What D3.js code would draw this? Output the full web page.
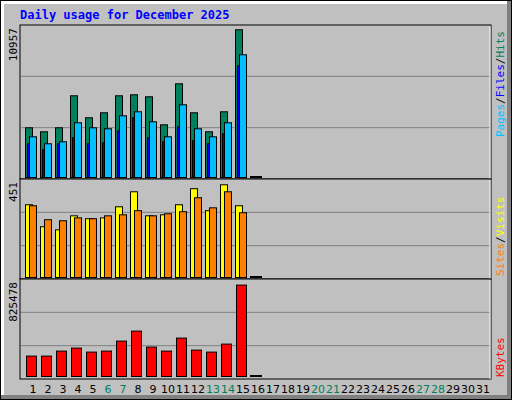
<!DOCTYPE html>
<html><head><meta charset="utf-8">
<script src="https://cdn.jsdelivr.net/npm/d3@7"></script>
<style>body{margin:0;background:#fff}svg{display:block}</style>
</head><body>
<svg id="c" width="512" height="400"></svg>
<script>
const days = d3.range(1, 32);
const weekendDays = [6, 7, 13, 14, 20, 21, 27, 28];
const hits   = [3687,3390,3687,6061,4429,4800,6061,6135,5987,3909,6951,4800,3390,4874,10957];
const files  = [2500,2055,2500,2945,2500,2574,3464,4429,2945,2648,3761,2722,2500,3242,8286];
const pages  = [3019,2500,2648,4058,3687,3613,4577,4874,4132,3019,5393,3613,3019,4058,9103];
const visits = [354,247,232,300,286,290,344,417,300,305,354,432,325,451,349];
const sites  = [349,281,276,290,286,300,305,325,300,310,320,388,339,417,315];
const kbytes = [184243,184243,229400,256494,220368,229400,319713,410028,265525,229400,346806,238431,220368,292620,825478];
const maxHits = 10957, maxVisits = 451, maxKB = 825478;

const svg = d3.select("#c");
const font = "'DejaVu Sans Mono', monospace";
// frame
svg.append("rect").attr("x",0).attr("y",0).attr("width",512).attr("height",400).attr("fill","#000");
svg.append("rect").attr("x",1).attr("y",1).attr("width",510).attr("height",398).attr("fill","#808080");
svg.append("rect").attr("x",1).attr("y",1).attr("width",506).attr("height",394).attr("fill","#fff");
svg.append("rect").attr("x",4).attr("y",4).attr("width",503).attr("height",391).attr("fill","#c0c0c0");

svg.append("text").attr("x",20).attr("y",19).attr("fill","#0000ff").attr("font-family",font)
  .attr("font-weight","bold").attr("font-size",12).text("Daily usage for December 2025");

const x = d3.scaleLinear().domain([1, 32]).range([25, 490]);
const X0 = 20, X1 = 491;

function panel(top, bottom, max, label) {
  svg.append("rect").attr("x",X0).attr("y",top).attr("width",X1-X0).attr("height",bottom-top)
    .attr("fill","#c0c0c0").attr("stroke","#000");
  const h = bottom - top;
  [1,2].forEach(i => svg.append("line").attr("x1",X0+1).attr("x2",X1-1)
    .attr("y1",top + h*i/3).attr("y2",top + h*i/3).attr("stroke","#808080"));
  svg.append("line").attr("x1",X1-1).attr("x2",X1-1).attr("y1",top+1).attr("y2",bottom).attr("stroke","#fff");
  svg.append("text").attr("transform",`translate(17,${top+3}) rotate(-90)`).attr("text-anchor","end")
    .attr("font-family",font).attr("font-size",11).attr("fill","#000").text(label);
}
panel(25, 179, maxHits, "10957");
panel(179, 279, maxVisits, "451");
panel(279, 379, maxKB, "825478");

const yH = d3.scaleLinear().domain([0, maxHits]).range([177, 29.3]);
const yV = d3.scaleLinear().domain([0, maxVisits]).range([277, 184.3]);
const yK = d3.scaleLinear().domain([0, maxKB]).range([376, 284.6]);

function bars(data, y, dx, w, color) {
  svg.append("g").selectAll("rect").data(data).join("rect")
    .attr("x",(d,i)=>x(i+1)+dx+0.5).attr("y",d=>y(d)+0.5).attr("width",w).attr("height",d=>y(0)-y(d))
    .attr("fill",color).attr("stroke","#000");
}
bars(hits, yH, 0, 7, "#00805c");
bars(files, yH, 2, 5, "#0000ff");
bars(pages, yH, 4, 7, "#00c0ff");
bars(visits, yV, 0, 7, "#ffff00");
bars(sites, yV, 4, 7, "#ff8000");
bars(kbytes, yK, 1, 10, "#ff0000");

// empty day 16 stubs
[176, 276, 375].forEach(yy => svg.append("rect").attr("x",x(16)).attr("y",yy).attr("width",12).attr("height",2).attr("fill","#000"));

// day labels
svg.append("g").selectAll("text").data(days).join("text")
  .attr("x",d=>x(d)+8).attr("y",393).attr("text-anchor","middle")
  .attr("font-family","'DejaVu Sans', sans-serif").attr("font-size",11)
  .attr("fill",d=>weekendDays.includes(d)?"#00805c":"#000").text(d=>d);

function sideLabel(yEnd, parts) {
  const t = svg.append("text").attr("transform",`translate(504,${yEnd}) rotate(-90)`)
    .attr("font-family",font).attr("font-size",11).attr("text-anchor","start");
  parts.forEach(([s,c]) => t.append("tspan").attr("fill",c).text(s));
}
sideLabel(137, [["Pages","#00c0ff"],["/","#000"],["Files","#0000ff"],["/","#000"],["Hits","#00805c"]]);
sideLabel(276, [["Sites","#ff8000"],["/","#000"],["Visits","#ffff00"]]);
sideLabel(377, [["KBytes","#ff0000"]]);
</script>
</body></html>
